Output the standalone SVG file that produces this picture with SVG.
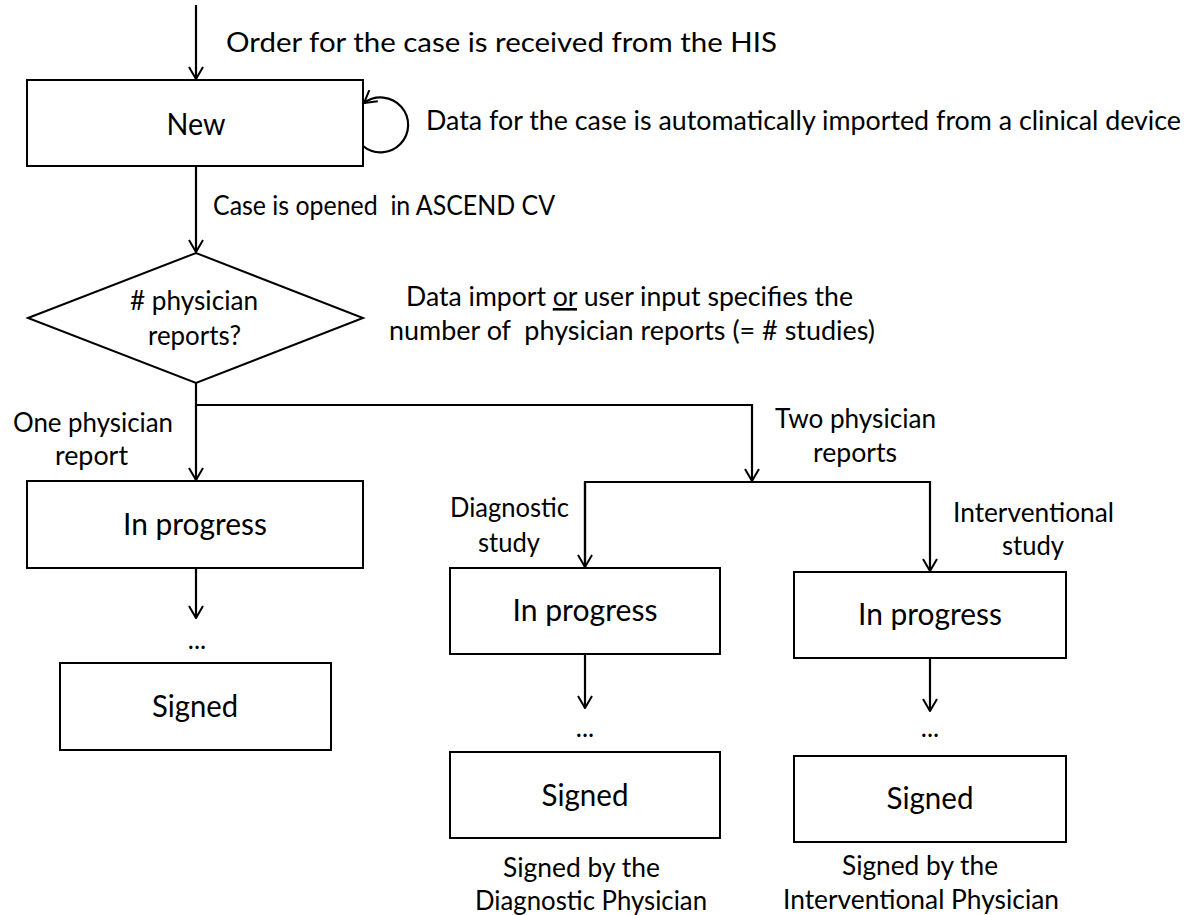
<svg xmlns="http://www.w3.org/2000/svg" width="1193" height="915" viewBox="0 0 1193 915">
<style>
  text { font-family: Lato, "Liberation Sans", Arial, sans-serif; fill: #000; white-space: pre; }
  .lbl { font-size: 26px; }
  .box { font-size: 30px; text-anchor: middle; }
  .c { text-anchor: middle; }
  .shape { fill: #fff; stroke: #000; stroke-width: 2; }
  .conn { fill: none; stroke: #000; stroke-width: 2.2; }
</style>
<defs>
  <marker id="arr" viewBox="0 0 14 16" refX="13" refY="8" markerWidth="14" markerHeight="16" markerUnits="userSpaceOnUse" orient="auto">
    <path d="M1,1 L13,8 L1,15" fill="none" stroke="#000" stroke-width="2"/>
  </marker>
</defs>
<rect width="1193" height="915" fill="#fff"/>

<g id="connectors">
  <line class="conn" x1="196" y1="5" x2="196" y2="79" marker-end="url(#arr)"/>
  <path class="conn" d="M363,146 A27.5,27.5 0 1 0 364,103" marker-end="url(#arr)"/>
  <line class="conn" x1="196" y1="166" x2="196" y2="252" marker-end="url(#arr)"/>
  <line class="conn" x1="196" y1="383" x2="196" y2="480" marker-end="url(#arr)"/>
  <polyline class="conn" points="196,405 752,405 752,481" marker-end="url(#arr)"/>
  <polyline class="conn" points="585,567 585,482 930,482 930,571" marker-end="url(#arr)"/>
  <line class="conn" x1="585" y1="482" x2="585" y2="567" marker-end="url(#arr)"/>
  <line class="conn" x1="196" y1="568" x2="196" y2="618" marker-end="url(#arr)"/>
  <line class="conn" x1="585" y1="654" x2="585" y2="708" marker-end="url(#arr)"/>
  <line class="conn" x1="930" y1="658" x2="930" y2="711" marker-end="url(#arr)"/>
</g>

<g id="node-new">
  <rect class="shape" x="27" y="80" width="336" height="86"/>
  <text class="box" x="196" y="135" textLength="59" lengthAdjust="spacingAndGlyphs">New</text>
</g>
<g id="node-decision">
  <polygon class="shape" points="28,318 196,253 363,318 196,383"/>
  <text class="lbl" x="130" y="310" textLength="128" lengthAdjust="spacingAndGlyphs"># physician</text>
  <text class="lbl" x="148" y="345" textLength="93" lengthAdjust="spacingAndGlyphs">reports?</text>
</g>
<g id="node-inprogress-1">
  <rect class="shape" x="27" y="481" width="336" height="87"/>
  <text class="box" x="195" y="535" textLength="144" lengthAdjust="spacingAndGlyphs">In progress</text>
</g>
<g id="node-signed-1">
  <rect class="shape" x="60" y="663" width="271" height="87"/>
  <text class="box" x="195" y="717" textLength="86" lengthAdjust="spacingAndGlyphs">Signed</text>
</g>
<g id="node-inprogress-diag">
  <rect class="shape" x="450" y="568" width="270" height="86"/>
  <text class="box" x="585" y="621" textLength="145" lengthAdjust="spacingAndGlyphs">In progress</text>
</g>
<g id="node-signed-diag">
  <rect class="shape" x="450" y="752" width="270" height="86"/>
  <text class="box" x="585" y="806" textLength="87" lengthAdjust="spacingAndGlyphs">Signed</text>
</g>
<g id="node-inprogress-int">
  <rect class="shape" x="794" y="572" width="272" height="86"/>
  <text class="box" x="930" y="625" textLength="144" lengthAdjust="spacingAndGlyphs">In progress</text>
</g>
<g id="node-signed-int">
  <rect class="shape" x="794" y="756" width="272" height="86"/>
  <text class="box" x="930" y="809" textLength="87" lengthAdjust="spacingAndGlyphs">Signed</text>
</g>

<g id="labels">
  <text class="lbl" x="226" y="52" textLength="551" lengthAdjust="spacingAndGlyphs">Order for the case is received from the HIS</text>
  <text class="lbl" x="426" y="130" textLength="755" lengthAdjust="spacingAndGlyphs">Data for the case is automatically imported from a clinical device</text>
  <text class="lbl" x="213" y="215" textLength="342" lengthAdjust="spacingAndGlyphs">Case is opened  in ASCEND CV</text>
  <text class="lbl" x="406" y="306" textLength="447" lengthAdjust="spacingAndGlyphs">Data import <tspan text-decoration="underline">or</tspan> user input specifies the</text>
  <text class="lbl" x="389" y="340" textLength="486" lengthAdjust="spacingAndGlyphs">number of  physician reports (= # studies)</text>
  <text class="lbl" x="13" y="432" textLength="160" lengthAdjust="spacingAndGlyphs">One physician</text>
  <text class="lbl" x="55" y="465" textLength="73" lengthAdjust="spacingAndGlyphs">report</text>
  <text class="lbl" x="775" y="428" textLength="161" lengthAdjust="spacingAndGlyphs">Two physician</text>
  <text class="lbl" x="813" y="462" textLength="84" lengthAdjust="spacingAndGlyphs">reports</text>
  <text class="lbl" x="450" y="517" textLength="119" lengthAdjust="spacingAndGlyphs">Diagnostic</text>
  <text class="lbl" x="478" y="552" textLength="62" lengthAdjust="spacingAndGlyphs">study</text>
  <text class="lbl" x="953" y="522" textLength="161" lengthAdjust="spacingAndGlyphs">Interventional</text>
  <text class="lbl" x="1002" y="555" textLength="62" lengthAdjust="spacingAndGlyphs">study</text>
  <text class="lbl c" x="197" y="649">...</text>
  <text class="lbl c" x="585" y="737">...</text>
  <text class="lbl c" x="930" y="737">...</text>
  <text class="lbl" x="503" y="877" textLength="157" lengthAdjust="spacingAndGlyphs">Signed by the</text>
  <text class="lbl" x="475" y="910" textLength="232" lengthAdjust="spacingAndGlyphs">Diagnostic Physician</text>
  <text class="lbl" x="842" y="875" textLength="156" lengthAdjust="spacingAndGlyphs">Signed by the</text>
  <text class="lbl" x="783" y="909" textLength="276" lengthAdjust="spacingAndGlyphs">Interventional Physician</text>
</g>
</svg>
